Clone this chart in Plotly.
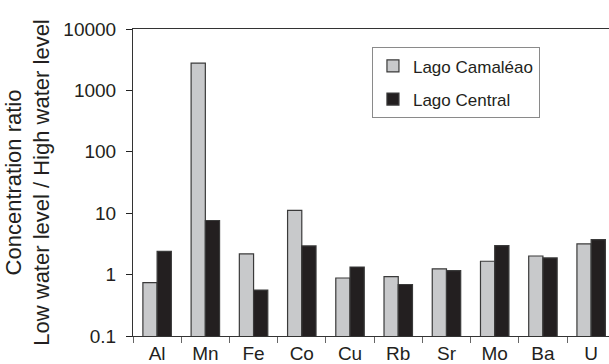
import plotly.graph_objects as go

elements = ["Al", "Mn", "Fe", "Co", "Cu", "Rb", "Sr", "Mo", "Ba", "U"]
camaleao = [0.74, 2780, 2.17, 11.1, 0.88, 0.93, 1.24, 1.65, 2.01, 3.16]
central = [2.39, 7.6, 0.56, 2.93, 1.33, 0.69, 1.16, 2.96, 1.87, 3.71]
y_ticks = [0.1, 1, 10, 100, 1000, 10000]
y_tick_text = ["0.1", "1", "10", "100", "1000", "10000"]
minor_vals = [m * 10 ** e for e in range(-1, 4) for m in range(2, 10)]

FONT = "Liberation Sans, Arial, sans-serif"
INK = "#231f20"

fig = go.Figure()
fig.add_trace(go.Bar(
    x=elements, y=camaleao, name="Lago Camaléao", legendgroup="a",
    marker=dict(color="#c8c9cb", line=dict(color="#3a3a3a", width=1.2)),
))
fig.add_trace(go.Bar(
    x=elements, y=central, name="Lago Central", legendgroup="b",
    marker=dict(color=INK, line=dict(color="#3a3a3a", width=1.2)),
))

fig.update_layout(
    width=609, height=364,
    margin=dict(l=133, r=0, t=29, b=26),
    paper_bgcolor="white", plot_bgcolor="white",
    font=dict(family=FONT, size=19, color=INK),
    barmode="group", bargap=0.41, bargroupgap=0,
    showlegend=True,
    legend=dict(
        x=0.502, y=0.94, xanchor="left", yanchor="top",
        bordercolor="#8a8a8a", borderwidth=1, bgcolor="white",
        font=dict(size=17, family=FONT, color=INK),
        traceorder="grouped", tracegroupgap=8,
        itemwidth=30,
    ),
    xaxis=dict(
        type="category", range=[-0.5, 9.37],
        showline=True, linecolor="#333", linewidth=1, mirror=True,
        ticks="outside", tickson="boundaries", ticklen=6, tickcolor="#666", tickwidth=1,
        showgrid=False, tickfont=dict(size=19, family=FONT, color=INK),
    ),
    yaxis=dict(
        type="log", range=[-1, 4],
        tickmode="array", tickvals=y_ticks, ticktext=y_tick_text,
        showline=True, linecolor="#333", linewidth=1,
        ticks="outside", ticklen=6, tickcolor="#222", tickwidth=1,
        ticklabelstandoff=6,
        showgrid=False, zeroline=False,
        tickfont=dict(size=19, family=FONT, color=INK),
        title=dict(text="Concentration ratio<br>Low water level / High water level",
                   font=dict(size=22, family=FONT, color=INK), standoff=7),
    ),
    yaxis2=dict(
        type="log", range=[-1, 4], overlaying="y", anchor="x", side="left",
        tickmode="array", tickvals=minor_vals, showticklabels=False,
        ticks="outside", ticklen=4, tickcolor="#333", tickwidth=1,
        showline=False, showgrid=False, zeroline=False,
    ),
)

fig.write_html("out.html", config={"displayModeBar": False},
               post_script="document.body.style.margin='0';document.body.style.padding='0';")
